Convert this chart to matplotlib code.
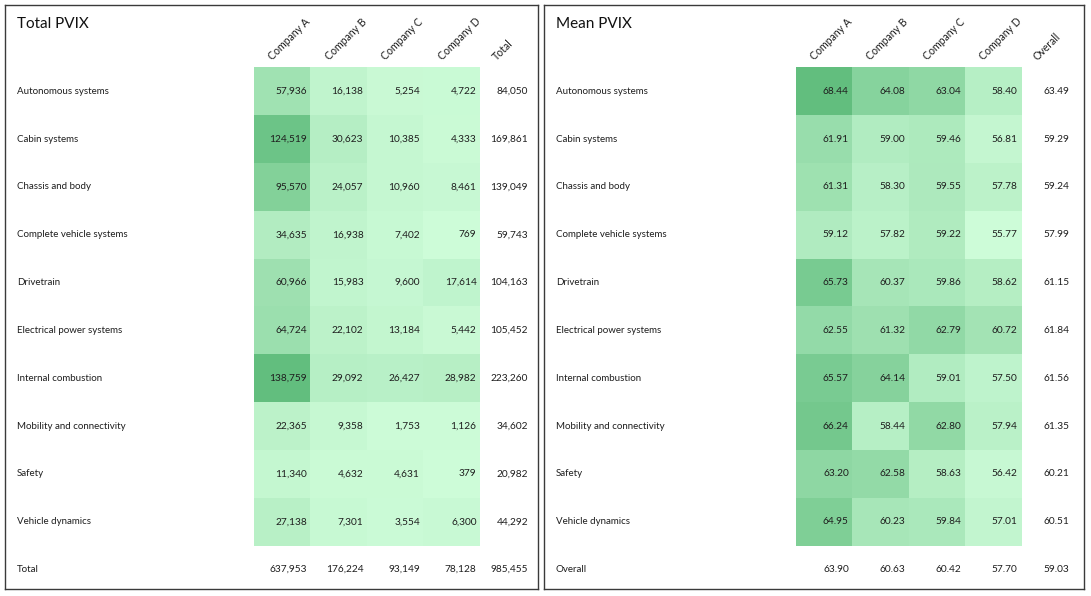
import numpy as np
import matplotlib
matplotlib.use("Agg")
import matplotlib.pyplot as plt
from matplotlib.colors import LinearSegmentedColormap

plt.rcParams['font.family'] = ['Lato', 'DejaVu Sans']

# --- data ---
areas = ["Autonomous systems", "Cabin systems", "Chassis and body",
         "Complete vehicle systems", "Drivetrain", "Electrical power systems",
         "Internal combustion", "Mobility and connectivity", "Safety",
         "Vehicle dynamics"]
companies = ["Company A", "Company B", "Company C", "Company D"]

total_a = [57936, 124519, 95570, 34635, 60966, 64724, 138759, 22365, 11340, 27138]
total_b = [16138, 30623, 24057, 16938, 15983, 22102, 29092, 9358, 4632, 7301]
total_c = [5254, 10385, 10960, 7402, 9600, 13184, 26427, 1753, 4631, 3554]
total_d = [4722, 4333, 8461, 769, 17614, 5442, 28982, 1126, 379, 6300]
total_row = [84050, 169861, 139049, 59743, 104163, 105452, 223260, 34602, 20982, 44292]
total_col = [637953, 176224, 93149, 78128]
total_all = 985455

mean_a = [68.44, 61.91, 61.31, 59.12, 65.73, 62.55, 65.57, 66.24, 63.20, 64.95]
mean_b = [64.08, 59.00, 58.30, 57.82, 60.37, 61.32, 64.14, 58.44, 62.58, 60.23]
mean_c = [63.04, 59.46, 59.55, 59.22, 59.86, 62.79, 59.01, 62.80, 58.63, 59.84]
mean_d = [58.40, 56.81, 57.78, 55.77, 58.62, 60.72, 57.50, 57.94, 56.42, 57.01]
mean_row = [63.49, 59.29, 59.24, 57.99, 61.15, 61.84, 61.56, 61.35, 60.21, 60.51]
mean_col = [63.90, 60.63, 60.42, 57.70]
mean_all = 59.03

cmap = LinearSegmentedColormap.from_list("excel_green", ["#cdfcd8", "#62be7e"])
TXT = "#1e1e1e"
W, H = 1091, 596


def draw_panel(box, cell_x0, cell_w, title, sum_label, grid, row_sums, col_sums, grand, fmt):
    # box = (left, top, right, bottom) in pixels; cells start at cell_x0
    l, t, r, b = box
    ax = fig.add_axes([l / W, 1 - b / H, (r - l) / W, (b - t) / H])
    cell_y0, cell_h = 67.3, 47.84
    ax.set_xlim((l - cell_x0) / cell_w, (r - cell_x0) / cell_w)
    ax.set_ylim((b - cell_y0) / cell_h, (t - cell_y0) / cell_h)
    ax.set_xticks([])
    ax.set_yticks([])
    for s in ax.spines.values():
        s.set_color("#3a3a3a")
        s.set_linewidth(1.0)

    data = np.array(grid).T
    ax.imshow(data, cmap=cmap, aspect="auto", extent=(0, 4, 10, 0),
              interpolation="nearest")

    px = 1.0 / cell_w
    label_x = (l + 12 - cell_x0) / cell_w
    ax.text(label_x, (24 - cell_y0) / cell_h, title, fontsize=11, color="#111111",
            ha="left", va="center")

    for j, name in enumerate(areas):
        ax.text(label_x, j + 0.5, name, fontsize=7, color=TXT, ha="left", va="center")
        for i in range(4):
            ax.text(i + 1 - 3.5 * px, j + 0.5, fmt(data[j, i]), fontsize=7.3,
                    color=TXT, ha="right", va="center")
        ax.text(4 + 48 * px, j + 0.5, fmt(row_sums[j]), fontsize=7.3, color=TXT,
                ha="right", va="center")

    ax.text(label_x, 10.5, sum_label, fontsize=7, color=TXT, ha="left", va="center")
    for i in range(4):
        ax.text(i + 1 - 3.5 * px, 10.5, fmt(col_sums[i]), fontsize=7.3, color=TXT,
                ha="right", va="center")
    ax.text(4 + 48 * px, 10.5, fmt(grand), fontsize=7.3, color=TXT,
            ha="right", va="center")

    head_y = -5 / cell_h
    for i, c in enumerate(companies):
        ax.text(i + 0.5 - 8 * px, head_y, c, fontsize=7.6, color=TXT, rotation=45,
                rotation_mode="anchor", ha="left", va="bottom")
    ax.text(4 + 18 * px, head_y, sum_label, fontsize=7.6, color=TXT, rotation=45,
            rotation_mode="anchor", ha="left", va="bottom")
    return ax


fig = plt.figure(figsize=(W / 100, H / 100), dpi=100)
fig.patch.set_facecolor("white")

draw_panel((5, 5, 538, 589), 254, 56.5, "Total PVIX", "Total",
           [total_a, total_b, total_c, total_d], total_row, total_col, total_all,
           lambda v: f"{int(v):,}")
draw_panel((544, 5, 1084, 589), 796, 56.3, "Mean PVIX", "Overall",
           [mean_a, mean_b, mean_c, mean_d], mean_row, mean_col, mean_all,
           lambda v: f"{v:.2f}")

fig.savefig("out.png", dpi=100)
